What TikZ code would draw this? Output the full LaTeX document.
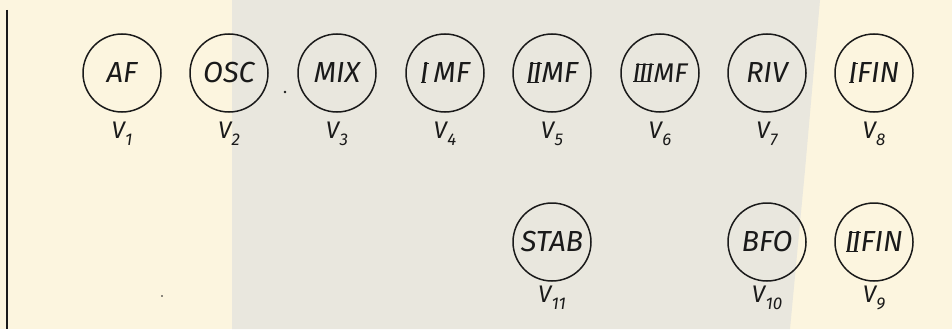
\documentclass[tikz,border=0pt]{standalone}
\usepackage{fontspec}
\newfontfamily\lettfam{Fira Sans}
\newcommand\lett{\lettfam\itshape}
\definecolor{creambg}{HTML}{FCF5DF}
\definecolor{graybg}{HTML}{E9E7DE}
\definecolor{ink}{HTML}{1A1A1A}
\newcommand\RN[1]{\setbox0\hbox{#1}\makebox[\wd0][l]{\rlap{\hspace{0.02em}\rule[0pt]{\dimexpr\wd0-0.12em}{0.05em}}\rlap{\hspace{0.14em}\rule[\dimexpr\ht0-0.05em]{\dimexpr\wd0-0.12em}{0.05em}}#1}}
\newcommand\Vs[1]{V\kern0.02em\raisebox{-7pt}{\fontsize{17}{17}\selectfont #1}}
\tikzset{
  tube/.style={circle, draw=ink, line width=1.5pt, minimum size=78pt, inner sep=0pt, font=\lett\fontsize{29}{29}\selectfont, text=ink},
  vlab/.style={inner sep=0pt, font=\lett\fontsize{24}{24}\selectfont, text=ink},
}
\begin{document}
\begin{tikzpicture}[x=1pt,y=-1pt]
\useasboundingbox (0,0) rectangle (952,329);
\fill[creambg] (0,0) rectangle (952,329);
\fill[graybg] (232,0) -- (820,0) -- (805,170) -- (790,329) -- (232,329) -- cycle;
\draw[ink, line width=1.8pt] (7,10) -- (7,329);
% top row
\node[tube] (v1) at (122,73) {AF};
\node[tube] (v2) at (229,73) {OSC};
\node[tube] (v3) at (337,73) {MIX};
\node[tube] (v4) at (445,73) {\RN{I}\,MF};
\node[tube] (v5) at (552,73) {\RN{I\kern-0.05em I}MF};
\node[tube] (v6) at (660,73) {\fontsize{27}{27}\selectfont\RN{I\kern-0.05em I\kern-0.05em I}MF};
\node[tube] (v7) at (767,73) {RIV};
\node[tube] (v8) at (874,73) {\RN{I}FIN};
% bottom row
\node[tube] (v11) at (552,242) {STAB};
\node[tube] (v10) at (767,242) {BFO};
\node[tube] (v9) at (874,242) {\RN{I\kern-0.05em I}FIN};
% labels
\node[vlab] (l1) at (122,134) {\Vs{1}};
\node[vlab] (l2) at (229,134) {\Vs{2}};
\node[vlab] (l3) at (337,134) {\Vs{3}};
\node[vlab] (l4) at (445,134) {\Vs{4}};
\node[vlab] (l5) at (552,134) {\Vs{5}};
\node[vlab] (l6) at (660,134) {\Vs{6}};
\node[vlab] (l7) at (767,134) {\Vs{7}};
\node[vlab] (l8) at (874,134) {\Vs{8}};
\node[vlab] (l11) at (552,298) {\Vs{11}};
\node[vlab] (l10) at (767,298) {\Vs{10}};
\node[vlab] (l9) at (874,298) {\Vs{9}};
% specks
\fill[ink] (285,92) circle (1.4);
\fill[ink] (162,296) circle (0.9);
\end{tikzpicture}
\end{document}
